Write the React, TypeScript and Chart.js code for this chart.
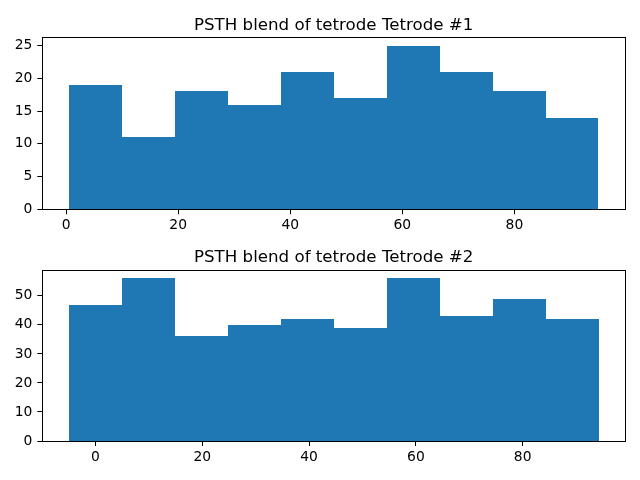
import React, { useEffect, useRef } from "react";
import { Chart, registerables } from "chart.js";

Chart.register(...registerables);

const FONT = '"DejaVu Sans", "Liberation Sans", sans-serif';
const BAR_COLOR = "#1f77b4";

// Top panel
const TITLE_1 = "PSTH blend of tetrode Tetrode #1";
const EDGES_1 = [0.48, 9.93, 19.38, 28.84, 38.29, 47.74, 57.19, 66.64, 76.1, 85.55, 95.0];
const COUNTS_1 = [19, 11, 18, 16, 21, 17, 25, 21, 18, 14];
const XTICKS_1 = [0, 20, 40, 60, 80];
const YTICKS_1 = [0, 5, 10, 15, 20, 25];
const XRANGE_1 = [-4.25, 99.73];
const YMAX_1 = 26.25;

// Bottom panel
const TITLE_2 = "PSTH blend of tetrode Tetrode #2";
const EDGES_2 = [-5.0, 4.92, 14.84, 24.76, 34.68, 44.6, 54.52, 64.44, 74.36, 84.28, 94.2];
const COUNTS_2 = [47, 56, 36, 40, 42, 39, 56, 43, 49, 42];
const XTICKS_2 = [0, 20, 40, 60, 80];
const YTICKS_2 = [0, 10, 20, 30, 40, 50];
const XRANGE_2 = [-9.96, 99.16];
const YMAX_2 = 58.8;

type HistProps = {
  top: number;
  title: string;
  edges: number[];
  counts: number[];
  xticks: number[];
  yticks: number[];
  xrange: number[];
  ymax: number;
  padTop: number;
  xAxisH: number;
};

function Hist(p: HistProps) {
  const ref = useRef<HTMLCanvasElement>(null);
  useEffect(() => {
    if (!ref.current) return;
    // histogram outline: each bin starts at its left edge; last point closes at right edge
    const data = p.edges.map((e, i) => ({ x: e, y: p.counts[Math.min(i, p.counts.length - 1)] }));
    const snapPlugin = {
      id: "snap" + p.top,
      afterDatasetsUpdate(chart: any) {
        // snap step corners to whole pixels (like matplotlib's snapping) for crisp edges
        chart.getDatasetMeta(0).data.forEach((el: any) => {
          el.x = Math.round(el.x);
          el.y = Math.round(el.y);
        });
      },
    };
    const framePlugin = {
      id: "frame" + p.top,
      afterDraw(chart: any) {
        const { ctx, chartArea: a } = chart;
        ctx.save();
        ctx.strokeStyle = "#000";
        ctx.lineWidth = 1;
        const l = Math.floor(a.left) + 0.5;
        const t = Math.floor(a.top) + 0.5;
        const r = Math.floor(a.right) + 0.5;
        const b = Math.floor(a.bottom) + 0.5;
        ctx.strokeRect(l, t, r - l, b - t);
        ctx.fillStyle = "#000";
        ctx.font = `16.67px ${FONT}`;
        ctx.textAlign = "center";
        ctx.textBaseline = "alphabetic";
        ctx.fillText(p.title, (a.left + a.right) / 2, a.top - 8);
        ctx.restore();
      },
    };
    const tickFont = { family: FONT, size: 13.89 };
    const chart = new Chart(ref.current, {
      type: "line",
      data: {
        datasets: [
          {
            data: data as any,
            backgroundColor: BAR_COLOR,
            borderColor: "rgba(0,0,0,0)",
            borderWidth: 0,
            stepped: "before",
            fill: "origin",
            pointRadius: 0,
            pointHoverRadius: 0,
            tension: 0,
          },
        ],
      },
      options: {
        animation: false,
        responsive: false,
        maintainAspectRatio: false,
        devicePixelRatio: 1,
        events: [],
        layout: { padding: { left: 0, right: 15, top: p.padTop, bottom: 0 } },
        plugins: {
          legend: { display: false },
          tooltip: { enabled: false },
          title: { display: false },
        },
        scales: {
          x: {
            type: "linear",
            offset: false,
            min: p.xrange[0],
            max: p.xrange[1],
            afterBuildTicks: (s: any) => {
              s.ticks = p.xticks.map((v) => ({ value: v }));
            },
            afterFit: (s: any) => {
              s.height = p.xAxisH;
            },
            grid: {
              drawOnChartArea: false,
              drawTicks: true,
              tickLength: 5,
              tickWidth: 1,
              tickColor: "#000",
              color: "#000",
            },
            border: { display: false },
            ticks: {
              color: "#000",
              font: tickFont,
              padding: 3,
              maxRotation: 0,
              autoSkip: false,
            },
          },
          y: {
            type: "linear",
            min: 0,
            max: p.ymax,
            afterBuildTicks: (s: any) => {
              s.ticks = p.yticks.map((v) => ({ value: v }));
            },
            afterFit: (s: any) => {
              s.width = 42.3;
            },
            grid: {
              drawOnChartArea: false,
              drawTicks: true,
              tickLength: 5,
              tickWidth: 1,
              tickColor: "#000",
              color: "#000",
            },
            border: { display: false },
            ticks: {
              color: "#000",
              font: tickFont,
              padding: 5,
              autoSkip: false,
            },
          },
        },
      } as any,
      plugins: [snapPlugin, framePlugin],
    });
    return () => chart.destroy();
  }, []);
  return (
    <div style={{ position: "absolute", left: 0, top: p.top, width: 640, height: 240 }}>
      <canvas ref={ref} width={640} height={240} style={{ display: "block", width: 640, height: 240 }} />
    </div>
  );
}

export default function App() {
  return (
    <div style={{ position: "absolute", left: 0, top: 0, width: 640, height: 480, background: "#fff" }}>
      <Hist
        top={0}
        title={TITLE_1}
        edges={EDGES_1}
        counts={COUNTS_1}
        xticks={XTICKS_1}
        yticks={YTICKS_1}
        xrange={XRANGE_1}
        ymax={YMAX_1}
        padTop={37.5}
        xAxisH={30.7}
      />
      <Hist
        top={240}
        title={TITLE_2}
        edges={EDGES_2}
        counts={COUNTS_2}
        xticks={XTICKS_2}
        yticks={YTICKS_2}
        xrange={XRANGE_2}
        ymax={YMAX_2}
        padTop={30.3}
        xAxisH={39}
      />
    </div>
  );
}
